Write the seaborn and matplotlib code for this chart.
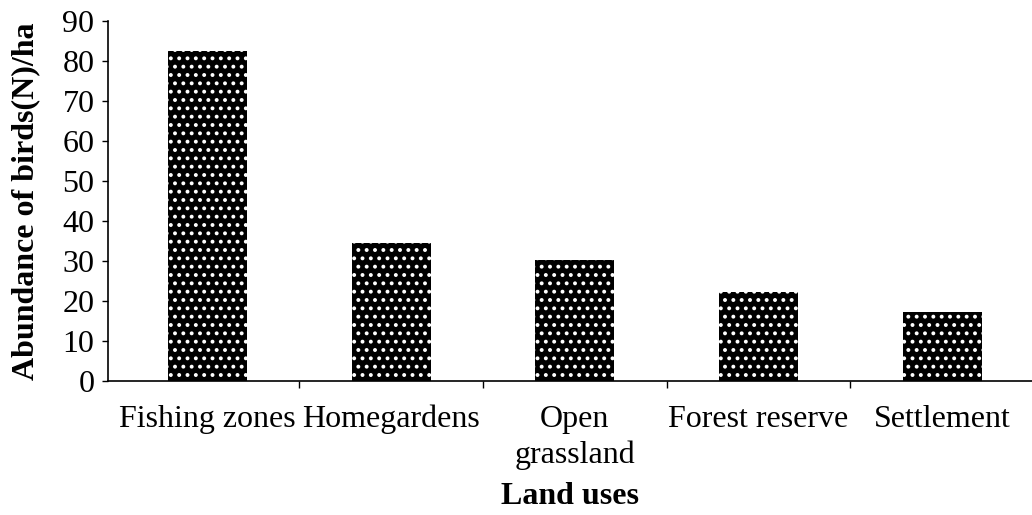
import pandas as pd
import seaborn as sns
import matplotlib.pyplot as plt
from matplotlib.ticker import FixedLocator

# Data
land_uses = ["Fishing zones", "Homegardens", "Open\ngrassland", "Forest reserve", "Settlement"]
abundance = [82.5, 34.5, 30.2, 22.2, 17.2]

df = pd.DataFrame({"Land uses": land_uses, "Abundance": abundance})

sns.set_theme(style="ticks")
plt.rcParams["font.family"] = ["Liberation Serif", "DejaVu Serif"]
plt.rcParams["text.color"] = "black"
plt.rcParams["axes.labelcolor"] = "black"
plt.rcParams["hatch.color"] = "white"
plt.rcParams["hatch.linewidth"] = 1.6

fig = plt.figure(figsize=(10.32, 5.15), dpi=100)
ax = fig.add_axes([0.105, 0.26, 0.895, 0.699])

sns.barplot(data=df, x="Land uses", y="Abundance", color="black",
            width=0.43, ax=ax, saturation=1)
for bar in ax.patches:
    bar.set_facecolor("black")
    bar.set_edgecolor("white")
    bar.set_linewidth(0)
    bar.set_hatch("..")

ax.set_xlim(-0.54, 4.49)
ax.set_ylim(0, 90)
ax.set_yticks(range(0, 91, 10))
ax.tick_params(axis="y", labelsize=23, length=4, width=1, direction="out", pad=6,
               colors="black", labelcolor="black")
ax.tick_params(axis="x", which="major", labelsize=23, length=0, pad=17,
               colors="black", labelcolor="black")
ax.xaxis.set_minor_locator(FixedLocator([0.5, 1.5, 2.5, 3.5]))
ax.tick_params(axis="x", which="minor", length=5, width=1, direction="out", color="black")
for lbl in ax.get_xticklabels():
    lbl.set_linespacing(1.3)

sns.despine(ax=ax)
ax.spines["left"].set_color("black")
ax.spines["bottom"].set_color("black")
ax.spines["left"].set_linewidth(1.2)
ax.spines["bottom"].set_linewidth(1.2)

ax.set_ylabel("Abundance of birds(N)/ha", fontsize=23, fontweight="bold", labelpad=16)
ax.set_xlabel("Land uses", fontsize=23, fontweight="bold", labelpad=9)

fig.savefig("out.png", dpi=100)
